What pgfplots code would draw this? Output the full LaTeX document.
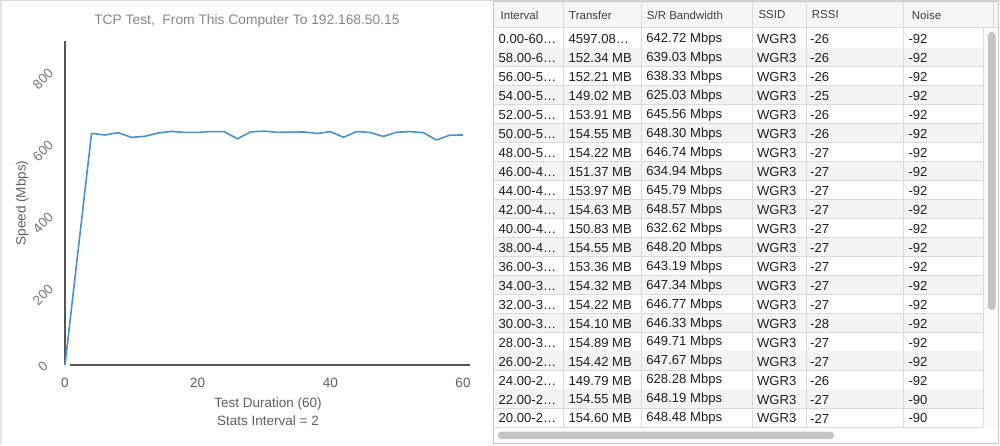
\documentclass[border=0pt]{standalone}
\usepackage{fontspec}
\setmainfont{Liberation Sans}
\usepackage{pgfplots}
\pgfplotsset{compat=1.18}
\definecolor{lineblue}{RGB}{74,144,210}
\definecolor{axisgray}{RGB}{85,85,85}
\definecolor{labelgray}{RGB}{95,95,95}
\definecolor{titlegray}{RGB}{135,135,135}
\definecolor{rowgray}{RGB}{244,244,245}
\definecolor{headgray}{RGB}{246,246,246}
\definecolor{gridc}{RGB}{218,218,218}
\definecolor{framec}{RGB}{200,200,200}
\definecolor{txt}{RGB}{30,30,30}
\definecolor{thumb}{RGB}{196,196,196}
\definecolor{track}{RGB}{250,250,250}
\definecolor{stripc}{RGB}{228,228,228}
\definecolor{topc}{RGB}{215,215,215}
\begin{document}
\begin{tikzpicture}[x=1pt,y=1pt]
\useasboundingbox (0,0) rectangle (1000,445);
% left strip and top line
\fill[stripc] (0,0) rectangle (2,445);
\draw[topc, line width=0.8pt] (0,444.6) -- (1000,444.6);
\begin{axis}[
  at={(65pt,80pt)}, anchor=origin,
  scale only axis, width=398pt, height=324pt,
  xmin=0, xmax=60, ymin=0, ymax=900,
  xtick={0,20,40,60}, ytick={0,200,400,600,800},
  major tick length=0pt,
  axis line style={draw=none},
  clip=false,
  every axis title shift=0pt,
  /pgf/number format/assume math mode=true,
  tick label style={font=\fontsize{13.5}{16}\selectfont, text=labelgray},
  xticklabel style={yshift=-10pt},
  yticklabel style={anchor=center, xshift=-22pt, yshift=-2pt, rotate=45, text=labelgray!85},
  title={TCP Test,\ \ From This Computer To 192.168.50.15},
  title style={at={(axis description cs:0.457,1.0617)}, anchor=center, font=\fontsize{13.8}{16}\selectfont, text=titlegray},
  xlabel={Test Duration (60)\\Stats Interval = 2},
  xlabel style={at={(axis description cs:0.51,-0.145)}, anchor=center, align=center, font=\fontsize{13.5}{18}\selectfont, text=labelgray},
  ylabel={Speed (Mbps)},
  ylabel style={at={(axis description cs:-0.108,0.5)}, anchor=center, font=\fontsize{13.5}{16}\selectfont, text=labelgray},
]
\draw[axisgray, line width=1.2pt] (axis cs:0,0) -- (axis cs:0,900);
\draw[axisgray, line width=1.2pt] (axis cs:0.75,0) -- (axis cs:61.05,0);
\addplot[color=lineblue, line width=1.6pt, line join=round] coordinates {
(0,0) (4,643.6) (6,638.9) (8,645.4) (10,632.4) (12,635.2) (14,644.4) (16,649) (18,646) (20,646)
(22,648.48) (24,648.19) (26,628.28) (28,647.67) (30,649.71) (32,646.33) (34,646.77) (36,647.34)
(38,643.19) (40,648.20) (42,632.62) (44,648.57) (46,645.79) (48,634.94) (50,646.74) (52,648.30)
(54,645.56) (56,625.03) (58,638.33) (60,639.03)
};
\end{axis}
% ---------- table ----------
\def\rowh{18.97}
\fill[white] (493,2) rectangle (998,443);
\fill[headgray] (493.5,417.5) rectangle (997.5,443);
\fill[track] (983,17.6) rectangle (997.5,417.5);
\foreach \i/\ca/\cb/\cc/\cd/\ce/\cf in {
1/0.00-60…/4597.08…/642.72 Mbps/WGR3/-26/-92,
2/58.00-6…/152.34 MB/639.03 Mbps/WGR3/-26/-92,
3/56.00-5…/152.21 MB/638.33 Mbps/WGR3/-26/-92,
4/54.00-5…/149.02 MB/625.03 Mbps/WGR3/-25/-92,
5/52.00-5…/153.91 MB/645.56 Mbps/WGR3/-26/-92,
6/50.00-5…/154.55 MB/648.30 Mbps/WGR3/-26/-92,
7/48.00-5…/154.22 MB/646.74 Mbps/WGR3/-27/-92,
8/46.00-4…/151.37 MB/634.94 Mbps/WGR3/-27/-92,
9/44.00-4…/153.97 MB/645.79 Mbps/WGR3/-27/-92,
10/42.00-4…/154.63 MB/648.57 Mbps/WGR3/-27/-92,
11/40.00-4…/150.83 MB/632.62 Mbps/WGR3/-27/-92,
12/38.00-4…/154.55 MB/648.20 Mbps/WGR3/-27/-92,
13/36.00-3…/153.36 MB/643.19 Mbps/WGR3/-27/-92,
14/34.00-3…/154.32 MB/647.34 Mbps/WGR3/-27/-92,
15/32.00-3…/154.22 MB/646.77 Mbps/WGR3/-27/-92,
16/30.00-3…/154.10 MB/646.33 Mbps/WGR3/-28/-92,
17/28.00-3…/154.89 MB/649.71 Mbps/WGR3/-27/-92,
18/26.00-2…/154.42 MB/647.67 Mbps/WGR3/-27/-92,
19/24.00-2…/149.79 MB/628.28 Mbps/WGR3/-26/-92,
20/22.00-2…/154.55 MB/648.19 Mbps/WGR3/-27/-90,
21/20.00-2…/154.60 MB/648.48 Mbps/WGR3/-27/-90} {
  \pgfmathsetmacro\ytop{445-29-(\i-1)*\rowh}
  \pgfmathsetmacro\ybot{\ytop-\rowh}
  \pgfmathsetmacro\ymid{\ytop-\rowh/2-0.6}
  \ifodd\i\relax\else\fill[rowgray] (494,\ybot) rectangle (983,\ytop);\fi
  \draw[gridc, line width=0.9pt] (494,\ybot) -- (983,\ybot);
  \begin{scope}[every node/.style={anchor=west, inner sep=0pt, text=txt, font=\fontsize{13.1}{15}\selectfont}]
  \node at (498.5,\ymid) {\ca};
  \node at (568.3,\ymid) {\cb};
  \node at (646.2,\ymid) {\cc};
  \node at (756.8,\ymid) {\cd};
  \node at (810,\ymid) {\ce};
  \node at (908.3,\ymid) {\cf};
  \end{scope}
}
% header line and text
\draw[gridc, line width=1pt] (493.5,417.2) -- (997.5,417.2);
\begin{scope}[every node/.style={anchor=west, inner sep=0pt, text=txt!85, font=\fontsize{11.5}{14}\selectfont}]
\node at (500.5,430) {Interval};
\node at (569,430) {Transfer};
\node at (646.7,430) {S/R Bandwidth};
\node at (758.3,430) {SSID};
\node at (811.7,430) {RSSI};
\node at (911.7,430) {Noise};
\end{scope}
% column dividers
\foreach \x in {563.3,641.8,752.8,806,903.3} {
  \draw[gridc, line width=0.9pt] (\x,443) -- (\x,17.6);
}
\draw[gridc, line width=0.9pt] (983,417.2) -- (983,17.6);
\draw[gridc, line width=0.9pt] (993,443) -- (993,417.2);
% scrollbars
\fill[thumb, rounded corners=3.5pt] (988,135) rectangle (995.5,413);
\fill[thumb, rounded corners=3.5pt] (498,6) rectangle (834,13.5);
% frame
\draw[framec, line width=0.9pt] (493.5,2) rectangle (998,443.5);
\end{tikzpicture}
\end{document}
